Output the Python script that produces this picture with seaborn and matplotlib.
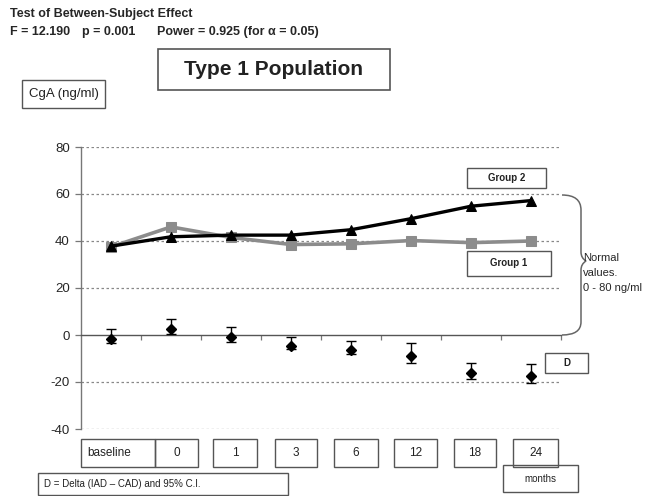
import numpy as np
import matplotlib
matplotlib.use("Agg")
import matplotlib.pyplot as plt
from matplotlib.patches import Rectangle, PathPatch
from matplotlib.path import Path
import seaborn as sns

# data
categories = ["baseline", "0", "1", "3", "6", "12", "18", "24"]
group1 = [37.5, 46.0, 41.5, 38.5, 38.8, 40.2, 39.3, 40.0]
group2 = [37.8, 41.8, 42.5, 42.5, 44.8, 49.5, 54.8, 57.2]
delta = [-1.7, 2.7, -0.8, -4.5, -6.3, -8.9, -16.0, -17.6]
delta_hi = [2.6, 6.7, 3.3, -0.7, -2.6, -3.5, -11.8, -12.4]
delta_lo = [-3.5, 0.4, -2.8, -5.8, -8.2, -12.0, -18.6, -20.3]
yticks = [-40, -20, 0, 20, 40, 60, 80]

W, H = 662, 496
sns.set_theme(style="white")
plt.rcParams["font.family"] = ["Liberation Sans", "DejaVu Sans"]

fig = plt.figure(figsize=(W / 100, H / 100), dpi=100)
ax = fig.add_axes([81 / W, 1 - 429 / H, 480 / W, 282 / H])

xpos = np.arange(len(categories))

# dotted grid (zero line is the axis itself)
for yv in yticks:
    if yv != 0:
        ax.axhline(yv, color="#888888", lw=0.9, ls=(0, (2, 2)), zorder=0)

sns.lineplot(x=xpos, y=group1, ax=ax, color="#8c8c8c", lw=2.6, marker="s",
             markersize=7.5, markeredgecolor="#8c8c8c", zorder=3)
sns.lineplot(x=xpos, y=group2, ax=ax, color="black", lw=2.4, marker="^",
             markersize=7.5, markeredgecolor="black", zorder=4)

d = np.array(delta)
yerr = np.vstack([d - np.array(delta_lo), np.array(delta_hi) - d])
ax.errorbar(xpos, d, yerr=yerr, fmt="D", color="black", markersize=5,
            ecolor="black", elinewidth=1.0, capsize=3.5, capthick=1.0, zorder=5)

ax.set_xlim(-0.5, 7.5)
ax.set_ylim(-40, 80)
ax.set_yticks(yticks)
ax.set_yticklabels([str(v) for v in yticks], fontsize=9.5)
ax.set_xticks(list(xpos + 0.5))
ax.set_xticklabels([])
ax.tick_params(axis="x", direction="out", length=3.5, width=0.9, color="#777777", bottom=True)
ax.tick_params(axis="y", direction="out", length=4, width=0.9, color="#777777", left=True, pad=4)
for s in ["top", "right"]:
    ax.spines[s].set_visible(False)
ax.spines["left"].set_color("#777777")
ax.spines["left"].set_linewidth(1.0)
ax.spines["bottom"].set_position(("data", 0))
ax.spines["bottom"].set_color("#555555")
ax.spines["bottom"].set_linewidth(1.0)
ax.set_xlabel("")
ax.set_ylabel("")


def fx(x):
    return x / W


def fy(y):
    return 1 - y / H


def box(x0, y0, x1, y1, text, size=8, weight="normal", lw=1.0, ha="center"):
    fig.patches.append(Rectangle((fx(x0), fy(y1)), fx(x1) - fx(x0), fy(y0) - fy(y1),
                                 transform=fig.transFigure, fill=False,
                                 edgecolor="#555555", lw=lw))
    tx = (x0 + x1) / 2 if ha == "center" else x0 + 6
    fig.text(fx(tx), fy((y0 + y1) / 2), text, ha=ha, va="center",
             fontsize=size, fontweight=weight, color="#222222")


# header text
fig.text(fx(10), fy(14), "Test of Between-Subject Effect", fontsize=9,
         fontweight="bold", va="center", ha="left")
fig.text(fx(10), fy(32), "F = 12.190", fontsize=9, fontweight="bold", va="center")
fig.text(fx(82), fy(32), "p = 0.001", fontsize=9, fontweight="bold", va="center")
fig.text(fx(157), fy(32), "Power = 0.925 (for \u03b1 = 0.05)", fontsize=9,
         fontweight="bold", va="center")

box(158, 49, 390, 90, "Type 1 Population", size=15, weight="bold", lw=1.2)
box(22, 80, 105, 108, "CgA (ng/ml)", size=9.5)

box(467, 168, 546, 188, "Group 2", size=7, weight="bold")
box(467, 251, 551, 276, "Group 1", size=7, weight="bold")
box(545, 353, 588, 373, "D", size=7, weight="bold")

# category boxes under the plot
cat_boxes = [(81, 155), (155, 198), (213, 257), (275, 317),
             (334, 378), (394, 437), (454, 496), (513, 558)]
for (x0, x1), lab in zip(cat_boxes, categories):
    box(x0, 439, x1, 467, lab, size=8.5, ha="left" if lab == "baseline" else "center")
box(503, 465, 578, 492, "months", size=7)
box(38, 473, 288, 495, "D = Delta (IAD \u2013 CAD) and 95% C.I.", size=7, ha="left")

# brace for normal values
pts = [(562, 195), (581, 195), (581, 210), (581, 252), (581, 258), (586, 261),
       (581, 264), (581, 270), (581, 322), (581, 335), (562, 335)]
codes = [Path.MOVETO, Path.CURVE3, Path.CURVE3, Path.LINETO, Path.CURVE3, Path.CURVE3,
         Path.CURVE3, Path.CURVE3, Path.LINETO, Path.CURVE3, Path.CURVE3]
brace = Path([(fx(x), fy(y)) for x, y in pts], codes)
fig.patches.append(PathPatch(brace, transform=fig.transFigure, fill=False,
                             edgecolor="#666666", lw=1.1))
fig.text(fx(583), fy(258), "Normal", fontsize=8, va="center", ha="left")
fig.text(fx(583), fy(273), "values.", fontsize=8, va="center", ha="left")
fig.text(fx(583), fy(288), "0 - 80 ng/ml", fontsize=8, va="center", ha="left")

fig.savefig("out.png", dpi=100, facecolor="white")
